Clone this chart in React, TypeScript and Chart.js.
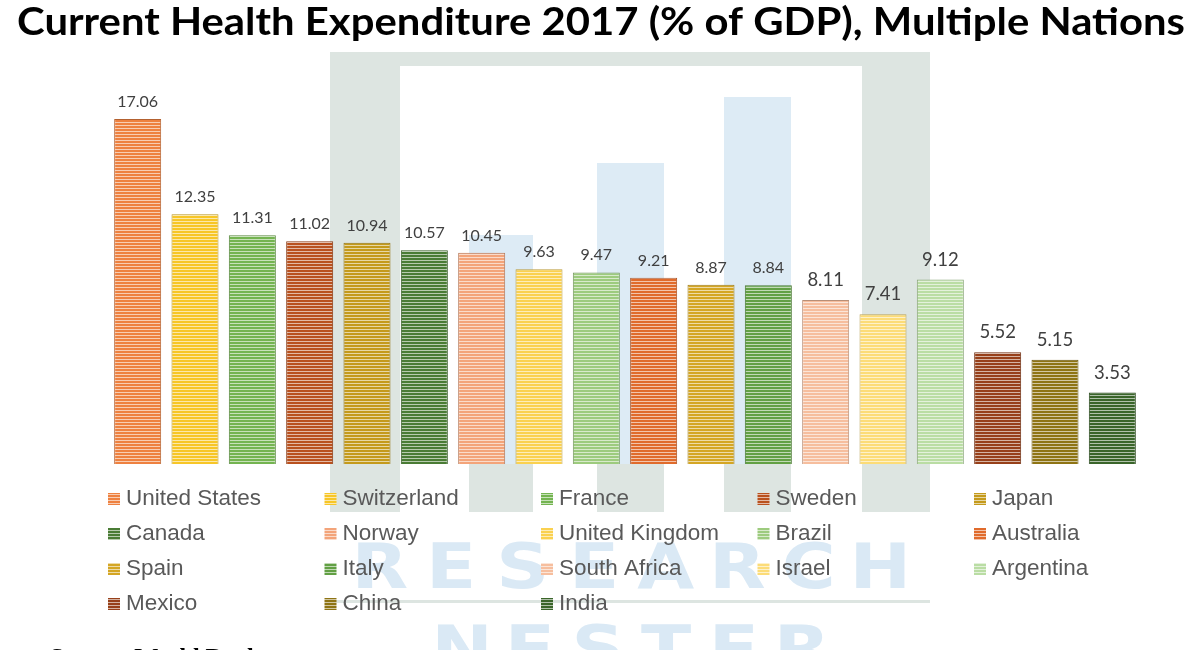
import React, { useEffect, useRef } from "react";
import { Chart, registerables } from "chart.js";

Chart.register(...registerables);

const TITLE = "Current Health Expenditure 2017 (% of GDP), Multiple Nations";
const SOURCE = "Source: World Bank";

const countries = [
  "United States", "Switzerland", "France", "Sweden", "Japan",
  "Canada", "Norway", "United Kingdom", "Brazil", "Australia",
  "Spain", "Italy", "South Africa", "Israel", "Argentina",
  "Mexico", "China", "India",
];

const values = [
  17.06, 12.35, 11.31, 11.02, 10.94,
  10.57, 10.45, 9.63, 9.47, 9.21,
  8.87, 8.84, 8.11, 7.41, 9.12,
  5.52, 5.15, 3.53,
];

// styling (not data)
const barColors = [
  "#EE8140", "#F7C627", "#74B451", "#B9511E", "#C49A1C",
  "#4A7C35", "#F3A47A", "#FAD150", "#9DCB7E", "#E06B2C",
  "#D4A624", "#62A044", "#F6BE9E", "#FCDC78", "#BADDA4",
  "#97401A", "#8E7414", "#3A652A",
];
const labelSizes = [16, 16, 16, 16, 16, 16, 16, 16, 16, 16, 16, 16, 18.5, 18.5, 18.5, 18.5, 18.5, 18.5];

function hexToRgb(h: string) {
  const n = parseInt(h.slice(1), 16);
  return [(n >> 16) & 255, (n >> 8) & 255, n & 255];
}
function mix(h: string, t: number, target = 255) {
  const [r, g, b] = hexToRgb(h);
  const f = (c: number) => Math.round(c + (target - c) * t);
  return `rgb(${f(r)},${f(g)},${f(b)})`;
}

function makePattern(ctx: CanvasRenderingContext2D, color: string) {
  const c = document.createElement("canvas");
  c.width = 1;
  c.height = 3;
  const x = c.getContext("2d")!;
  x.fillStyle = color;
  x.fillRect(0, 0, 1, 3);
  x.fillStyle = mix(color, 0.6);
  x.fillRect(0, 2, 1, 1);
  return ctx.createPattern(c, "repeat")!;
}

const watermarkPlugin = {
  id: "watermark",
  beforeDraw(chart: any) {
    const ctx: CanvasRenderingContext2D = chart.ctx;
    ctx.save();
    ctx.fillStyle = "#fff";
    ctx.fillRect(0, 0, chart.width, chart.height);
    const gray = "#DDE5E1";
    const blue = "#DDEBF5";
    ctx.fillStyle = gray;
    ctx.fillRect(330, 52, 600, 14);
    ctx.fillRect(330, 52, 70, 460);
    ctx.fillRect(862, 52, 68, 460);
    ctx.fillRect(469, 464, 64, 48);
    ctx.fillRect(597, 464, 67, 48);
    ctx.fillRect(724, 464, 67, 48);
    ctx.fillRect(330, 600, 600, 3);
    ctx.fillStyle = blue;
    ctx.fillRect(469, 235, 64, 229);
    ctx.fillRect(597, 163, 67, 301);
    ctx.fillRect(724, 97, 67, 367);
    ctx.fillStyle = "#DAE9F5";
    ctx.font = "bold 64px 'DejaVu Sans'";
    ctx.textAlign = "center";
    ctx.textBaseline = "alphabetic";
    const word1 = "RESEARCH";
    for (let i = 0; i < word1.length; i++) {
      const cx = 344 + 71.5 * (i + 0.5);
      ctx.save();
      ctx.translate(cx, 588);
      ctx.scale(1.15, 0.98);
      ctx.fillText(word1[i], 0, 0);
      ctx.restore();
    }
    const word2 = "NESTER";
    for (let i = 0; i < word2.length; i++) {
      const cx = 428 + 68 * (i + 0.5);
      ctx.save();
      ctx.translate(cx, 670);
      ctx.scale(1.15, 0.98);
      ctx.fillText(word2[i], 0, 0);
      ctx.restore();
    }
    ctx.restore();
  },
};

const textPlugin = {
  id: "texts",
  afterDatasetsDraw(chart: any) {
    const ctx: CanvasRenderingContext2D = chart.ctx;
    ctx.save();
    // data labels
    chart.data.datasets.forEach((ds: any, i: number) => {
      const meta = chart.getDatasetMeta(i);
      const el = meta.data[0];
      if (!el) return;
      const size = labelSizes[i];
      ctx.font = `${size}px Lato`;
      ctx.fillStyle = "#404040";
      ctx.textAlign = "center";
      ctx.textBaseline = "alphabetic";
      ctx.fillText(ds.data[0].toFixed(2), el.x, el.y - (size > 17 ? 14 : 12));
    });
    // title
    ctx.font = "bold 38px 'Liberation Sans Narrow', Lato";
    ctx.fillStyle = "#000";
    ctx.textAlign = "left";
    const w = ctx.measureText(TITLE).width;
    ctx.save();
    ctx.translate(17, 35);
    ctx.scale(1168 / w, 1);
    ctx.fillText(TITLE, 0, 0);
    ctx.restore();
    // legend
    ctx.font = "22.5px 'Liberation Sans'";
    ctx.textBaseline = "middle";
    chart.data.datasets.forEach((ds: any, i: number) => {
      const col = i % 5;
      const row = Math.floor(i / 5);
      const x = 108 + col * 216.5;
      const y = 499 + row * 35;
      ctx.fillStyle = ds.backgroundColor;
      ctx.fillRect(x, y - 6, 12, 12);
      ctx.fillStyle = "#595959";
      ctx.fillText(ds.label, x + 18, y);
    });
    // source
    ctx.font = "bold 24px 'Liberation Serif'";
    ctx.fillStyle = "#000";
    ctx.textBaseline = "alphabetic";
    ctx.fillText(SOURCE, 50, 664);
    ctx.restore();
  },
};

export default function App() {
  const ref = useRef<HTMLCanvasElement | null>(null);
  useEffect(() => {
    const canvas = ref.current!;
    const ctx = canvas.getContext("2d")!;
    const datasets = countries.map((name, i) => ({
      label: name,
      data: [values[i]],
      backgroundColor: makePattern(ctx, barColors[i]),
      borderColor: mix(barColors[i], 0.25, 0),
      borderWidth: 1,
      barPercentage: 0.82,
      categoryPercentage: 1,
    }));
    const chart = new Chart(ctx, {
      type: "bar",
      data: { labels: [""], datasets },
      options: {
        responsive: false,
        animation: false,
        layout: { padding: { left: 109, right: 59, top: 100, bottom: 186 } },
        scales: {
          x: { display: false },
          y: { display: false, min: 0, max: 18 },
        },
        plugins: {
          legend: { display: false },
          title: { display: false },
          tooltip: { enabled: false },
        },
      },
      plugins: [watermarkPlugin, textPlugin],
    });
    return () => chart.destroy();
  }, []);
  return (
    <div style={{ position: "absolute", left: 0, top: 0, width: 1200, height: 650, overflow: "hidden" }}>
      <canvas ref={ref} width={1200} height={650} style={{ display: "block" }} />
    </div>
  );
}
